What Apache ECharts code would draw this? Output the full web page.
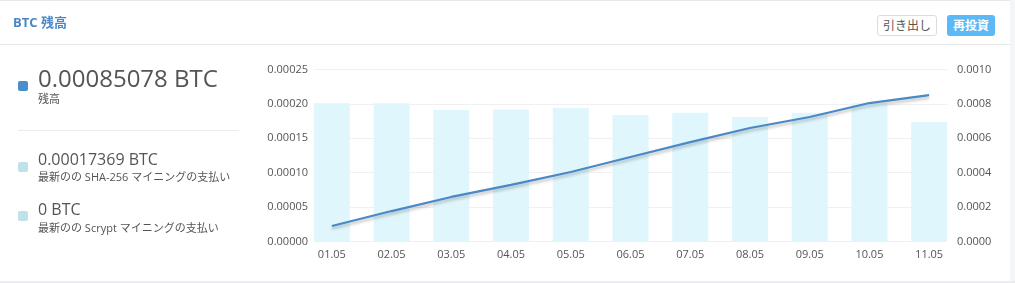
<!DOCTYPE html>
<html>
<head>
<meta charset="utf-8">
<script src="https://cdn.jsdelivr.net/npm/echarts@6/dist/echarts.min.js"></script>
<style>
  html, body { margin:0; padding:0; width:1015px; height:283px; background:#fff; overflow:hidden;
    font-family: "Open Sans", "Noto Sans CJK JP", sans-serif; }
  .abs { position:absolute; white-space:nowrap; }
  #chart { position:absolute; left:0; top:0; width:1015px; height:283px; }
  .topline { left:0; top:0; width:1010px; height:1px; background:#e6e8eb; }
  .rightstrip { left:1010px; top:0; width:5px; height:283px; background:#f4f5f7; }
  .bottomband { left:0; top:281px; width:1015px; height:2px; background:#e9ebee; }
  .hsep { left:0; top:44px; width:1010px; height:1px; background:#e8e8e8; }
  .title { left:13px; top:13px; font-size:13px; font-weight:bold; color:#4a87c4; line-height:18px; }
  .btn1 { left:877px; top:15px; width:58px; height:19px; border:1px solid #dcdcdc; border-radius:3px;
    font-size:12px; color:#555; text-align:center; line-height:19px; background:#fff; }
  .btn2 { left:947px; top:15px; width:48px; height:21px; border-radius:3px; background:#5cb8f7;
    font-size:12px; font-weight:bold; color:#fff; text-align:center; line-height:21px; }
  .sq { width:10px; height:10px; border-radius:2px; }
  .big { font-size:24px; color:#555; line-height:28px; }
  .mid { font-size:16px; color:#555; line-height:20px; }
  .small { font-size:11px; color:#555; line-height:14px; }
  .sep2 { left:18px; top:130px; width:221px; height:1px; background:#ececec; }
</style>
</head>
<body>
<div id="chart"></div>
<div class="abs topline"></div>
<div class="abs rightstrip"></div>
<div class="abs bottomband"></div>
<div class="abs hsep"></div>
<div class="abs title">BTC 残高</div>
<div class="abs btn1">引き出し</div>
<div class="abs btn2">再投資</div>

<div class="abs sq" style="left:18px;top:81px;background:#4a8fcb;"></div>
<div class="abs big" style="left:38px;top:64px;">0.00085078 BTC</div>
<div class="abs small" style="left:38px;top:92px;">残高</div>
<div class="abs sep2"></div>

<div class="abs sq" style="left:18px;top:162px;background:#bfe1ea;"></div>
<div class="abs mid" style="left:38px;top:149px;">0.00017369 BTC</div>
<div class="abs small" style="left:38px;top:170px;">最新のの SHA-256 マイニングの支払い</div>

<div class="abs sq" style="left:18px;top:211px;background:#bfe1ea;"></div>
<div class="abs mid" style="left:38px;top:199px;">0 BTC</div>
<div class="abs small" style="left:38px;top:221px;">最新のの Scrypt マイニングの支払い</div>

<script>
const categories = ["01.05","02.05","03.05","04.05","05.05","06.05","07.05","08.05","09.05","10.05","11.05"];
const payouts = [0.000201,0.000201,0.000191,0.000192,0.000194,0.000184,0.000187,0.000181,0.000187,0.000201,0.00017369];
const balance = [0.000090,0.000177,0.000259,0.000329,0.000404,0.000491,0.000578,0.000660,0.000724,0.000805,0.00085078];
const leftTicks = ["0.00000","0.00005","0.00010","0.00015","0.00020","0.00025"];
const rightTicks = ["0.0000","0.0002","0.0004","0.0006","0.0008","0.0010"];

const chart = echarts.init(document.getElementById('chart'), null, {renderer:'canvas'});
const font = '"Open Sans", "Noto Sans CJK JP", sans-serif';
const TOP = 69.5, BOTTOM = 283 - 241.5;
chart.setOption({
  animation:false,
  textStyle:{fontFamily:font},
  grid:[
    {left:302, right:56, top:TOP, bottom:BOTTOM},
    {left:314, right:68, top:TOP, bottom:BOTTOM}
  ],
  xAxis:[
    {type:'category', gridIndex:0, data:categories,
     axisLine:{show:false}, axisTick:{show:false}, splitLine:{show:false},
     axisLabel:{color:'#555', fontSize:11, margin:8, fontFamily:font}},
    {type:'value', gridIndex:1, min:0, max:1, show:false}
  ],
  yAxis:[
    {type:'value', gridIndex:0, min:0, max:0.00025, interval:0.00005, show:false},
    {type:'value', gridIndex:0, min:0, max:0.001, interval:0.0002, show:false},
    {type:'value', gridIndex:1, position:'left', min:0, max:0.00025, interval:0.00005,
     axisLine:{show:false}, axisTick:{show:false},
     splitLine:{show:true, lineStyle:{color:'#f0f0f0', width:1}},
     axisLabel:{color:'#555', fontSize:11, margin:6, fontFamily:font,
       formatter:(v)=>leftTicks[Math.round(v/0.00005)]}},
    {type:'value', gridIndex:1, position:'right', min:0, max:0.001, interval:0.0002,
     axisLine:{show:false}, axisTick:{show:false}, splitLine:{show:false},
     axisLabel:{color:'#555', fontSize:11, margin:10, fontFamily:font,
       formatter:(v)=>rightTicks[Math.round(v/0.0002)]}}
  ],
  series:[
    {type:'bar', xAxisIndex:0, yAxisIndex:0, data:payouts, barWidth:36,
     itemStyle:{color:'#dff6fd'}, silent:true},
    {type:'line', xAxisIndex:0, yAxisIndex:1, data:balance, showSymbol:false, symbol:'none',
     lineStyle:{color:'#4a89c5', width:2.2, shadowColor:'rgba(0,0,0,0.25)', shadowBlur:3, shadowOffsetY:2.5},
     z:5, silent:true}
  ]
});
</script>
</body>
</html>
